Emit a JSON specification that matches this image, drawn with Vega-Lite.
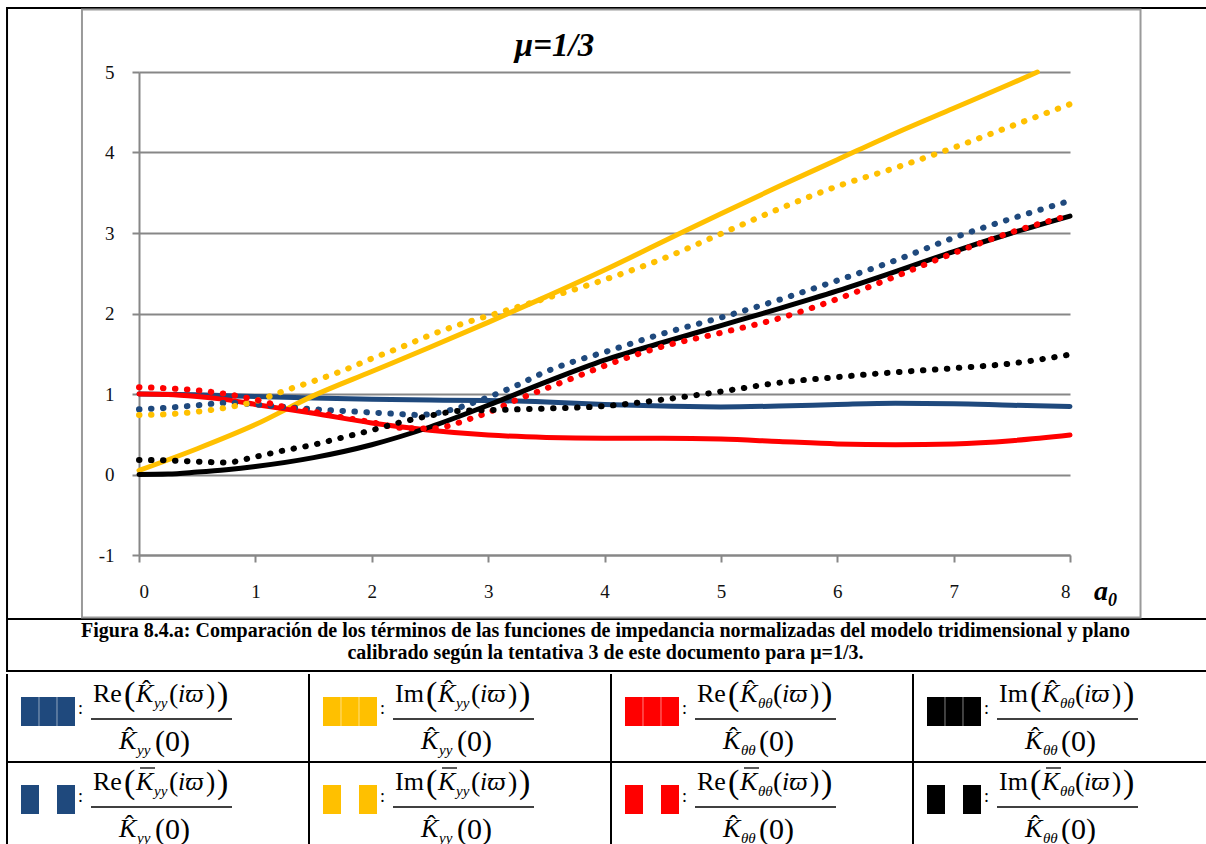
{
  "$schema": "https://vega.github.io/schema/vega-lite/v6.json",
  "background": "white",
  "padding": {"left": 5, "top": 7, "right": 0, "bottom": 0},
  "spacing": 0,
  "config": {"view": {"stroke": null}, "font": "Liberation Serif"},
  "datasets": {
    "series": [
      {"term":"Re Kyy","modelo":"tridimensional","x":0,"y":1.0},{"term":"Re Kyy","modelo":"tridimensional","x":0.5,"y":0.99},{"term":"Re Kyy","modelo":"tridimensional","x":1,"y":0.97},{"term":"Re Kyy","modelo":"tridimensional","x":1.5,"y":0.95},{"term":"Re Kyy","modelo":"tridimensional","x":2,"y":0.935},{"term":"Re Kyy","modelo":"tridimensional","x":2.5,"y":0.925},{"term":"Re Kyy","modelo":"tridimensional","x":3,"y":0.92},{"term":"Re Kyy","modelo":"tridimensional","x":3.5,"y":0.9},{"term":"Re Kyy","modelo":"tridimensional","x":4,"y":0.87},{"term":"Re Kyy","modelo":"tridimensional","x":4.5,"y":0.85},{"term":"Re Kyy","modelo":"tridimensional","x":5,"y":0.84},{"term":"Re Kyy","modelo":"tridimensional","x":5.5,"y":0.85},{"term":"Re Kyy","modelo":"tridimensional","x":6,"y":0.87},{"term":"Re Kyy","modelo":"tridimensional","x":6.5,"y":0.885},{"term":"Re Kyy","modelo":"tridimensional","x":7,"y":0.88},{"term":"Re Kyy","modelo":"tridimensional","x":7.5,"y":0.86},{"term":"Re Kyy","modelo":"tridimensional","x":8,"y":0.845},
      {"term":"Im Kyy","modelo":"tridimensional","x":0,"y":0.05},{"term":"Im Kyy","modelo":"tridimensional","x":0.5,"y":0.32},{"term":"Im Kyy","modelo":"tridimensional","x":1,"y":0.62},{"term":"Im Kyy","modelo":"tridimensional","x":1.5,"y":0.98},{"term":"Im Kyy","modelo":"tridimensional","x":2,"y":1.28},{"term":"Im Kyy","modelo":"tridimensional","x":2.5,"y":1.58},{"term":"Im Kyy","modelo":"tridimensional","x":3,"y":1.89},{"term":"Im Kyy","modelo":"tridimensional","x":3.5,"y":2.21},{"term":"Im Kyy","modelo":"tridimensional","x":4,"y":2.54},{"term":"Im Kyy","modelo":"tridimensional","x":4.5,"y":2.89},{"term":"Im Kyy","modelo":"tridimensional","x":5,"y":3.24},{"term":"Im Kyy","modelo":"tridimensional","x":5.5,"y":3.58},{"term":"Im Kyy","modelo":"tridimensional","x":6,"y":3.91},{"term":"Im Kyy","modelo":"tridimensional","x":6.5,"y":4.24},{"term":"Im Kyy","modelo":"tridimensional","x":7,"y":4.55},{"term":"Im Kyy","modelo":"tridimensional","x":7.5,"y":4.86},{"term":"Im Kyy","modelo":"tridimensional","x":7.72,"y":5.0},
      {"term":"Re Kθθ","modelo":"tridimensional","x":0,"y":1.0},{"term":"Re Kθθ","modelo":"tridimensional","x":0.25,"y":0.995},{"term":"Re Kθθ","modelo":"tridimensional","x":0.5,"y":0.97},{"term":"Re Kθθ","modelo":"tridimensional","x":0.75,"y":0.93},{"term":"Re Kθθ","modelo":"tridimensional","x":1,"y":0.87},{"term":"Re Kθθ","modelo":"tridimensional","x":1.5,"y":0.76},{"term":"Re Kθθ","modelo":"tridimensional","x":2,"y":0.64},{"term":"Re Kθθ","modelo":"tridimensional","x":2.5,"y":0.55},{"term":"Re Kθθ","modelo":"tridimensional","x":3,"y":0.49},{"term":"Re Kθθ","modelo":"tridimensional","x":3.5,"y":0.46},{"term":"Re Kθθ","modelo":"tridimensional","x":4,"y":0.45},{"term":"Re Kθθ","modelo":"tridimensional","x":4.5,"y":0.45},{"term":"Re Kθθ","modelo":"tridimensional","x":5,"y":0.44},{"term":"Re Kθθ","modelo":"tridimensional","x":5.5,"y":0.41},{"term":"Re Kθθ","modelo":"tridimensional","x":6,"y":0.38},{"term":"Re Kθθ","modelo":"tridimensional","x":6.5,"y":0.37},{"term":"Re Kθθ","modelo":"tridimensional","x":7,"y":0.38},{"term":"Re Kθθ","modelo":"tridimensional","x":7.5,"y":0.42},{"term":"Re Kθθ","modelo":"tridimensional","x":8,"y":0.49},
      {"term":"Im Kθθ","modelo":"tridimensional","x":0,"y":0.0},{"term":"Im Kθθ","modelo":"tridimensional","x":0.25,"y":0.005},{"term":"Im Kθθ","modelo":"tridimensional","x":0.5,"y":0.03},{"term":"Im Kθθ","modelo":"tridimensional","x":0.75,"y":0.06},{"term":"Im Kθθ","modelo":"tridimensional","x":1,"y":0.1},{"term":"Im Kθθ","modelo":"tridimensional","x":1.5,"y":0.21},{"term":"Im Kθθ","modelo":"tridimensional","x":2,"y":0.37},{"term":"Im Kθθ","modelo":"tridimensional","x":2.5,"y":0.59},{"term":"Im Kθθ","modelo":"tridimensional","x":3,"y":0.86},{"term":"Im Kθθ","modelo":"tridimensional","x":3.5,"y":1.15},{"term":"Im Kθθ","modelo":"tridimensional","x":4,"y":1.42},{"term":"Im Kθθ","modelo":"tridimensional","x":4.5,"y":1.64},{"term":"Im Kθθ","modelo":"tridimensional","x":5,"y":1.85},{"term":"Im Kθθ","modelo":"tridimensional","x":5.5,"y":2.06},{"term":"Im Kθθ","modelo":"tridimensional","x":6,"y":2.28},{"term":"Im Kθθ","modelo":"tridimensional","x":6.5,"y":2.52},{"term":"Im Kθθ","modelo":"tridimensional","x":7,"y":2.77},{"term":"Im Kθθ","modelo":"tridimensional","x":7.5,"y":3.0},{"term":"Im Kθθ","modelo":"tridimensional","x":8,"y":3.21},
      {"term":"Re Kyy","modelo":"plano","x":0,"y":0.81},{"term":"Re Kyy","modelo":"plano","x":0.25,"y":0.83},{"term":"Re Kyy","modelo":"plano","x":0.5,"y":0.86},{"term":"Re Kyy","modelo":"plano","x":0.75,"y":0.89},{"term":"Re Kyy","modelo":"plano","x":1,"y":0.87},{"term":"Re Kyy","modelo":"plano","x":1.25,"y":0.84},{"term":"Re Kyy","modelo":"plano","x":1.5,"y":0.81},{"term":"Re Kyy","modelo":"plano","x":1.75,"y":0.79},{"term":"Re Kyy","modelo":"plano","x":2,"y":0.77},{"term":"Re Kyy","modelo":"plano","x":2.25,"y":0.75},{"term":"Re Kyy","modelo":"plano","x":2.4,"y":0.74},{"term":"Re Kyy","modelo":"plano","x":2.55,"y":0.76},{"term":"Re Kyy","modelo":"plano","x":2.7,"y":0.81},{"term":"Re Kyy","modelo":"plano","x":2.85,"y":0.88},{"term":"Re Kyy","modelo":"plano","x":3,"y":0.96},{"term":"Re Kyy","modelo":"plano","x":3.25,"y":1.11},{"term":"Re Kyy","modelo":"plano","x":3.5,"y":1.28},{"term":"Re Kyy","modelo":"plano","x":3.75,"y":1.41},{"term":"Re Kyy","modelo":"plano","x":4,"y":1.52},{"term":"Re Kyy","modelo":"plano","x":4.5,"y":1.75},{"term":"Re Kyy","modelo":"plano","x":5,"y":1.95},{"term":"Re Kyy","modelo":"plano","x":5.5,"y":2.17},{"term":"Re Kyy","modelo":"plano","x":6,"y":2.41},{"term":"Re Kyy","modelo":"plano","x":6.5,"y":2.66},{"term":"Re Kyy","modelo":"plano","x":7,"y":2.94},{"term":"Re Kyy","modelo":"plano","x":7.5,"y":3.18},{"term":"Re Kyy","modelo":"plano","x":8,"y":3.4},
      {"term":"Im Kyy","modelo":"plano","x":0,"y":0.74},{"term":"Im Kyy","modelo":"plano","x":0.25,"y":0.75},{"term":"Im Kyy","modelo":"plano","x":0.5,"y":0.78},{"term":"Im Kyy","modelo":"plano","x":0.75,"y":0.83},{"term":"Im Kyy","modelo":"plano","x":1,"y":0.91},{"term":"Im Kyy","modelo":"plano","x":1.25,"y":1.04},{"term":"Im Kyy","modelo":"plano","x":1.5,"y":1.16},{"term":"Im Kyy","modelo":"plano","x":1.75,"y":1.29},{"term":"Im Kyy","modelo":"plano","x":2,"y":1.44},{"term":"Im Kyy","modelo":"plano","x":2.25,"y":1.58},{"term":"Im Kyy","modelo":"plano","x":2.5,"y":1.73},{"term":"Im Kyy","modelo":"plano","x":2.75,"y":1.86},{"term":"Im Kyy","modelo":"plano","x":3,"y":1.97},{"term":"Im Kyy","modelo":"plano","x":3.25,"y":2.08},{"term":"Im Kyy","modelo":"plano","x":3.5,"y":2.19},{"term":"Im Kyy","modelo":"plano","x":4,"y":2.42},{"term":"Im Kyy","modelo":"plano","x":4.5,"y":2.68},{"term":"Im Kyy","modelo":"plano","x":5,"y":2.99},{"term":"Im Kyy","modelo":"plano","x":5.5,"y":3.3},{"term":"Im Kyy","modelo":"plano","x":6,"y":3.58},{"term":"Im Kyy","modelo":"plano","x":6.5,"y":3.81},{"term":"Im Kyy","modelo":"plano","x":7,"y":4.06},{"term":"Im Kyy","modelo":"plano","x":7.5,"y":4.33},{"term":"Im Kyy","modelo":"plano","x":8,"y":4.6},
      {"term":"Re Kθθ","modelo":"plano","x":0,"y":1.085},{"term":"Re Kθθ","modelo":"plano","x":0.25,"y":1.07},{"term":"Re Kθθ","modelo":"plano","x":0.5,"y":1.045},{"term":"Re Kθθ","modelo":"plano","x":0.75,"y":1.0},{"term":"Re Kθθ","modelo":"plano","x":1,"y":0.93},{"term":"Re Kθθ","modelo":"plano","x":1.25,"y":0.84},{"term":"Re Kθθ","modelo":"plano","x":1.5,"y":0.78},{"term":"Re Kθθ","modelo":"plano","x":1.75,"y":0.71},{"term":"Re Kθθ","modelo":"plano","x":2,"y":0.65},{"term":"Re Kθθ","modelo":"plano","x":2.25,"y":0.58},{"term":"Re Kθθ","modelo":"plano","x":2.5,"y":0.57},{"term":"Re Kθθ","modelo":"plano","x":2.65,"y":0.6},{"term":"Re Kθθ","modelo":"plano","x":2.8,"y":0.67},{"term":"Re Kθθ","modelo":"plano","x":3,"y":0.77},{"term":"Re Kθθ","modelo":"plano","x":3.25,"y":0.93},{"term":"Re Kθθ","modelo":"plano","x":3.5,"y":1.07},{"term":"Re Kθθ","modelo":"plano","x":3.75,"y":1.21},{"term":"Re Kθθ","modelo":"plano","x":4,"y":1.35},{"term":"Re Kθθ","modelo":"plano","x":4.5,"y":1.59},{"term":"Re Kθθ","modelo":"plano","x":5,"y":1.76},{"term":"Re Kθθ","modelo":"plano","x":5.5,"y":1.94},{"term":"Re Kθθ","modelo":"plano","x":6,"y":2.18},{"term":"Re Kθθ","modelo":"plano","x":6.5,"y":2.46},{"term":"Re Kθθ","modelo":"plano","x":7,"y":2.75},{"term":"Re Kθθ","modelo":"plano","x":7.5,"y":3.01},{"term":"Re Kθθ","modelo":"plano","x":8,"y":3.22},
      {"term":"Im Kθθ","modelo":"plano","x":0,"y":0.18},{"term":"Im Kθθ","modelo":"plano","x":0.25,"y":0.175},{"term":"Im Kθθ","modelo":"plano","x":0.5,"y":0.16},{"term":"Im Kθθ","modelo":"plano","x":0.75,"y":0.15},{"term":"Im Kθθ","modelo":"plano","x":1,"y":0.22},{"term":"Im Kθθ","modelo":"plano","x":1.25,"y":0.3},{"term":"Im Kθθ","modelo":"plano","x":1.5,"y":0.37},{"term":"Im Kθθ","modelo":"plano","x":1.75,"y":0.46},{"term":"Im Kθθ","modelo":"plano","x":2,"y":0.55},{"term":"Im Kθθ","modelo":"plano","x":2.25,"y":0.65},{"term":"Im Kθθ","modelo":"plano","x":2.5,"y":0.73},{"term":"Im Kθθ","modelo":"plano","x":2.75,"y":0.79},{"term":"Im Kθθ","modelo":"plano","x":3,"y":0.8},{"term":"Im Kθθ","modelo":"plano","x":3.5,"y":0.82},{"term":"Im Kθθ","modelo":"plano","x":4,"y":0.85},{"term":"Im Kθθ","modelo":"plano","x":4.5,"y":0.93},{"term":"Im Kθθ","modelo":"plano","x":5,"y":1.03},{"term":"Im Kθθ","modelo":"plano","x":5.5,"y":1.14},{"term":"Im Kθθ","modelo":"plano","x":6,"y":1.21},{"term":"Im Kθθ","modelo":"plano","x":6.5,"y":1.27},{"term":"Im Kθθ","modelo":"plano","x":7,"y":1.32},{"term":"Im Kθθ","modelo":"plano","x":7.5,"y":1.38},{"term":"Im Kθθ","modelo":"plano","x":8,"y":1.49}
    ],
    "cells": [
      {"col":0,"row":0,"term":"Re Kyy","modelo":"tridimensional","pre":"Re","sub":"yy"},
      {"col":1,"row":0,"term":"Im Kyy","modelo":"tridimensional","pre":"Im","sub":"yy"},
      {"col":2,"row":0,"term":"Re Kθθ","modelo":"tridimensional","pre":"Re","sub":"θθ"},
      {"col":3,"row":0,"term":"Im Kθθ","modelo":"tridimensional","pre":"Im","sub":"θθ"},
      {"col":0,"row":1,"term":"Re Kyy","modelo":"plano","pre":"Re","sub":"yy"},
      {"col":1,"row":1,"term":"Im Kyy","modelo":"plano","pre":"Im","sub":"yy"},
      {"col":2,"row":1,"term":"Re Kθθ","modelo":"plano","pre":"Re","sub":"θθ"},
      {"col":3,"row":1,"term":"Im Kθθ","modelo":"plano","pre":"Im","sub":"θθ"}
    ],
    "caption": [
      {"texto": "Figura 8.4.a: Comparación de los términos de las funciones de impedancia normalizadas del modelo tridimensional y plano\ncalibrado según la tentativa 3 de este documento para μ=1/3."}
    ]
  },
  "vconcat": [
    {
      "width": 931,
      "height": 483,
      "layer": [
        {
          "data": {"name": "series"},
          "transform": [{"filter": "datum.modelo == 'tridimensional'"}],
          "mark": {"type": "line", "interpolate": "monotone", "strokeWidth": 5, "strokeCap": "round", "strokeJoin": "round"},
          "encoding": {
            "x": {"field": "x", "type": "quantitative", "scale": {"domain": [0, 8], "nice": false, "zero": false},
                  "axis": {"title": null, "values": [0,1,2,3,4,5,6,7,8], "labelExpr": "'' + datum.value", "grid": false, "domainColor": "#878787", "domainWidth": 2, "tickColor": "#878787", "tickWidth": 2, "tickSize": 7, "labelFont": "Liberation Serif", "labelFontSize": 19, "labelColor": "#111", "labelPadding": 20}},
            "y": {"field": "y", "type": "quantitative", "scale": {"domain": [-1, 5], "nice": false, "zero": false},
                  "axis": {"title": null, "values": [-1,0,1,2,3,4,5], "labelExpr": "'' + datum.value", "grid": true, "gridColor": "#878787", "gridWidth": 2, "domainColor": "#878787", "domainWidth": 2, "tickColor": "#878787", "tickWidth": 2, "tickSize": 7, "labelFont": "Liberation Serif", "labelFontSize": 19, "labelColor": "#111", "labelPadding": 18}},
            "color": {"field": "term", "type": "nominal", "scale": {"domain": ["Re Kyy", "Im Kyy", "Re Kθθ", "Im Kθθ"], "range": ["#1F497D", "#FFC000", "#FF0000", "#000000"]}, "legend": null},
            "detail": {"field": "modelo"}
          }
        },
        {
          "data": {"name": "series"},
          "transform": [{"filter": "datum.modelo == 'plano'"}],
          "mark": {"type": "line", "interpolate": "monotone", "strokeWidth": 6, "strokeCap": "round", "strokeDash": [0.5, 11.5]},
          "encoding": {
            "x": {"field": "x", "type": "quantitative"},
            "y": {"field": "y", "type": "quantitative"},
            "color": {"field": "term", "type": "nominal", "legend": null}
          }
        },
        {
          "data": {"values": [{}]},
          "mark": {"type": "rect", "fill": null, "stroke": "#000000", "strokeWidth": 2},
          "encoding": {"x": {"datum": -1.134}, "x2": {"datum": 9.246}, "y": {"datum": 5.795}, "y2": {"datum": -2.441}}
        },
        {
          "data": {"values": [{}]},
          "mark": {"type": "rule", "stroke": "#000000", "strokeWidth": 2},
          "encoding": {"x": {"datum": -1.134}, "x2": {"datum": 9.246}, "y": {"datum": -1.795}}
        },
        {
          "data": {"values": [{}]},
          "mark": {"type": "rect", "fill": null, "stroke": "#9a9a9a", "strokeWidth": 2},
          "encoding": {"x": {"datum": -0.49}, "x2": {"datum": 8.606}, "y": {"datum": 5.776}, "y2": {"datum": -1.776}}
        },
        {
          "data": {"values": [{"t": "μ=1/3"}]},
          "mark": {"type": "text", "font": "Liberation Serif", "fontSize": 33, "fontWeight": "bold", "fontStyle": "italic", "align": "center", "baseline": "alphabetic", "dx": -50, "dy": -16, "fill": "#000"},
          "encoding": {"x": {"datum": 4}, "y": {"datum": 5}, "text": {"field": "t"}}
        },
        {
          "data": {"values": [{"t": "a"}]},
          "mark": {"type": "text", "font": "Liberation Serif", "fontSize": 28, "fontWeight": "bold", "fontStyle": "italic", "align": "left", "baseline": "alphabetic", "dx": 24, "dy": 45, "fill": "#000"},
          "encoding": {"x": {"datum": 8}, "y": {"datum": -1}, "text": {"field": "t"}}
        },
        {
          "data": {"values": [{"t": "0"}]},
          "mark": {"type": "text", "font": "Liberation Serif", "fontSize": 18, "fontWeight": "bold", "fontStyle": "italic", "align": "left", "baseline": "alphabetic", "dx": 38, "dy": 51, "fill": "#000"},
          "encoding": {"x": {"datum": 8}, "y": {"datum": -1}, "text": {"field": "t"}}
        },
        {
          "data": {"name": "caption"},
          "mark": {"type": "text", "font": "Liberation Serif", "fontSize": 20, "fontWeight": "bold", "align": "center", "baseline": "alphabetic", "lineBreak": "\n", "lineHeight": 22, "dx": 1, "dy": 82, "fill": "#000"},
          "encoding": {"x": {"datum": 4}, "y": {"datum": -1}, "text": {"field": "texto"}}
        }
      ]
    },
    {
      "width": 1076,
      "height": 176,
      "data": {"name": "cells"},
      "encoding": {
        "x": {"field": "col", "type": "quantitative", "scale": {"domain": [0.43709, 4], "nice": false, "zero": false}, "axis": null},
        "y": {"field": "row", "type": "quantitative", "scale": {"domain": [0, 2], "nice": false, "zero": false, "reverse": true}, "axis": null}
      },
      "layer": [
        {"mark": {"type": "rule", "stroke": "#000", "strokeWidth": 2, "y2Offset": 88}, "encoding": {"y2": {"field": "row"}}},
        {"transform": [{"filter": "datum.row == 1"}], "mark": {"type": "rule", "stroke": "#000", "strokeWidth": 2, "x2Offset": 302}, "encoding": {"x2": {"field": "col"}}},
        {"transform": [{"filter": "datum.modelo == 'tridimensional'"}], "mark": {"type": "rect", "xOffset": 14, "x2Offset": 68, "yOffset": 23, "y2Offset": 52},
         "encoding": {"x2": {"field": "col"}, "y2": {"field": "row"}, "color": {"field": "term", "type": "nominal", "scale": {"domain": ["Re Kyy", "Im Kyy", "Re Kθθ", "Im Kθθ"], "range": ["#1F497D", "#FFC000", "#FF0000", "#000000"]}, "legend": null}}},
        {"transform": [{"filter": "datum.modelo == 'tridimensional'"}], "mark": {"type": "rule", "stroke": "#ffffff", "strokeOpacity": 0.5, "strokeWidth": 1, "xOffset": 32, "yOffset": 23, "y2Offset": 52}, "encoding": {"y2": {"field": "row"}}},
        {"transform": [{"filter": "datum.modelo == 'tridimensional'"}], "mark": {"type": "rule", "stroke": "#ffffff", "strokeOpacity": 0.5, "strokeWidth": 1, "xOffset": 50, "yOffset": 23, "y2Offset": 52}, "encoding": {"y2": {"field": "row"}}},
        {"transform": [{"filter": "datum.modelo == 'plano'"}], "mark": {"type": "rect", "xOffset": 14, "x2Offset": 32, "yOffset": 23, "y2Offset": 52},
         "encoding": {"x2": {"field": "col"}, "y2": {"field": "row"}, "color": {"field": "term", "type": "nominal", "legend": null}}},
        {"transform": [{"filter": "datum.modelo == 'plano'"}], "mark": {"type": "rect", "xOffset": 50, "x2Offset": 68, "yOffset": 23, "y2Offset": 52},
         "encoding": {"x2": {"field": "col"}, "y2": {"field": "row"}, "color": {"field": "term", "type": "nominal", "legend": null}}},
        {"mark": {"type": "text", "text": ":", "fontSize": 18, "align": "left", "baseline": "alphabetic", "dx": 71, "dy": 40, "fill": "#000"}},
        {"mark": {"type": "rule", "stroke": "#000", "strokeWidth": 1.5, "xOffset": 84, "x2Offset": 225, "yOffset": 45}, "encoding": {"x2": {"field": "col"}}},
        {"mark": {"type": "text", "fontSize": 26, "align": "left", "baseline": "alphabetic", "dx": 86, "dy": 28, "fill": "#000"}, "encoding": {"text": {"field": "pre"}}},
        {"mark": {"type": "text", "text": "(", "fontSize": 34, "align": "left", "baseline": "alphabetic", "dx": 117, "dy": 31, "fill": "#000"}},
        {"mark": {"type": "text", "text": "K", "fontSize": 26, "fontStyle": "italic", "align": "left", "baseline": "alphabetic", "dx": 129, "dy": 28, "fill": "#000"}},
        {"transform": [{"filter": "datum.modelo == 'tridimensional'"}], "mark": {"type": "text", "text": "ˆ", "fontSize": 26, "align": "left", "baseline": "alphabetic", "dx": 135, "dy": 24, "fill": "#000"}},
        {"transform": [{"filter": "datum.modelo == 'plano'"}], "mark": {"type": "rule", "stroke": "#000", "strokeWidth": 1.3, "xOffset": 133, "x2Offset": 148, "yOffset": 6}, "encoding": {"x2": {"field": "col"}}},
        {"mark": {"type": "text", "fontSize": 15, "fontStyle": "italic", "align": "left", "baseline": "alphabetic", "dx": 147, "dy": 34, "fill": "#000"}, "encoding": {"text": {"field": "sub"}}},
        {"mark": {"type": "text", "text": "(", "fontSize": 28, "align": "left", "baseline": "alphabetic", "dx": 162, "dy": 29, "fill": "#000"}},
        {"mark": {"type": "text", "text": "iϖ", "fontSize": 26, "fontStyle": "italic", "align": "left", "baseline": "alphabetic", "dx": 171, "dy": 28, "fill": "#000"}},
        {"mark": {"type": "text", "text": ")", "fontSize": 28, "align": "left", "baseline": "alphabetic", "dx": 199, "dy": 29, "fill": "#000"}},
        {"mark": {"type": "text", "text": ")", "fontSize": 34, "align": "left", "baseline": "alphabetic", "dx": 210, "dy": 31, "fill": "#000"}},
        {"mark": {"type": "text", "text": "K", "fontSize": 26, "fontStyle": "italic", "align": "left", "baseline": "alphabetic", "dx": 112, "dy": 75, "fill": "#000"}},
        {"mark": {"type": "text", "text": "ˆ", "fontSize": 26, "align": "left", "baseline": "alphabetic", "dx": 118, "dy": 71, "fill": "#000"}},
        {"mark": {"type": "text", "fontSize": 15, "fontStyle": "italic", "align": "left", "baseline": "alphabetic", "dx": 130, "dy": 81, "fill": "#000"}, "encoding": {"text": {"field": "sub"}}},
        {"mark": {"type": "text", "text": "(0)", "fontSize": 30, "align": "left", "baseline": "alphabetic", "dx": 148, "dy": 77, "fill": "#000"}}
      ]
    }
  ]
}
